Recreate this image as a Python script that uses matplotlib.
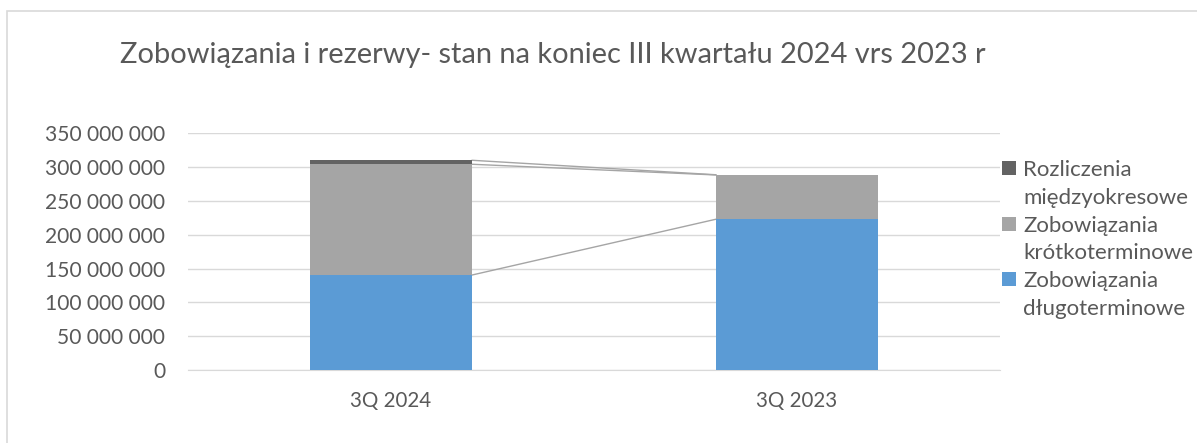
import matplotlib
matplotlib.use("Agg")
import matplotlib.pyplot as plt
from matplotlib.patches import Rectangle
import numpy as np

categories = ["3Q 2024", "3Q 2023"]
dlugoterminowe = [140_500_000, 222_900_000]
krotkoterminowe = [163_700_000, 65_500_000]
rozliczenia = [5_900_000, 300_000]
series_names = [["Zobowiązania", "długoterminowe"], ["Zobowiązania", "krótkoterminowe"],
                ["Rozliczenia", "międzyokresowe"]]
colors = ["#5B9BD5", "#A5A5A5", "#636363"]
yticks = [0, 50_000_000, 100_000_000, 150_000_000, 200_000_000, 250_000_000, 300_000_000, 350_000_000]
title = "Zobowiązania i rezerwy- stan na koniec III kwartału 2024 vrs 2023 r"

plt.rcParams['font.family'] = ['Lato', 'DejaVu Sans']
txt = "#595959"

W, H = 1197, 443
fig = plt.figure(figsize=(W / 100, H / 100), dpi=100)
renderer = fig.canvas.get_renderer()


def fit_size(s, target_px, base=12.0):
    t = fig.text(0, 0, s, fontsize=base)
    w = t.get_window_extent(renderer).width
    t.remove()
    return base * target_px / w


ytick_labels = [f"{v:,}".replace(",", " ") for v in yticks]
tick_fs = fit_size(ytick_labels[-1], 120)
xtick_fs = fit_size(categories[0], 81)
title_fs = fit_size(title, 863)
leg_fs = fit_size(series_names[1][1], 169)

# chart-area border (top and left visible, runs off right/bottom edges)
fig.patches.append(Rectangle((7 / W, -5 / H), (1210 - 7) / W, (H + 5 - 10.5) / H, transform=fig.transFigure,
                             fill=False, edgecolor="#D9D9D9", linewidth=1.2))
ax = fig.add_axes([188 / W, (H - 370) / H, (1000 - 188) / W, (370 - 133.3) / H])

x = np.arange(len(categories))
width = 0.4
series = [dlugoterminowe, krotkoterminowe, rozliczenia]
bottom = np.zeros(len(categories))
tops = []
for vals, c in zip(series, colors):
    vals = np.array(vals, dtype=float)
    ax.bar(x, vals, width, bottom=bottom, color=c, zorder=3)
    bottom = bottom + vals
    tops.append(bottom.copy())

# series lines
for t in tops:
    ax.plot([x[0] + width / 2, x[1] - width / 2], [t[0], t[1]], color="#A5A5A5", lw=1.0, zorder=2)

ax.set_xlim(-0.5, 1.5)
ax.set_ylim(0, 350_000_000)
ax.set_yticks(yticks)
ax.set_yticklabels(ytick_labels, fontsize=tick_fs)
ax.set_xticks(x)
ax.set_xticklabels(categories, fontsize=xtick_fs)
ax.yaxis.grid(True, color="#D9D9D9", lw=1.0, zorder=0)
ax.set_axisbelow(True)
for s in ["top", "right", "left"]:
    ax.spines[s].set_visible(False)
ax.spines["bottom"].set_color("#D9D9D9")
ax.tick_params(axis="both", length=0, colors=txt)
ax.tick_params(axis="y", pad=16.5)
ax.tick_params(axis="x", pad=15)

fig.text(553 / W, 1 - 55 / H, title, ha="center", va="center", fontsize=title_fs, color=txt)

# legend (drawn manually: square aligned with first text line, Excel style)
pitch = 27.8
y0 = 168
order = [2, 1, 0]
for i, k in enumerate(order):
    yc = y0 + i * 2 * pitch
    fig.patches.append(Rectangle((1002 / W, 1 - (yc + 7) / H), 14 / W, 14 / H, transform=fig.transFigure,
                                 facecolor=colors[k], edgecolor="none"))
    for j, line in enumerate(series_names[k]):
        fig.text(1023 / W, 1 - (yc + j * pitch) / H, line, ha="left", va="center_baseline",
                 fontsize=leg_fs, color=txt)

fig.savefig("out.png", dpi=100)
